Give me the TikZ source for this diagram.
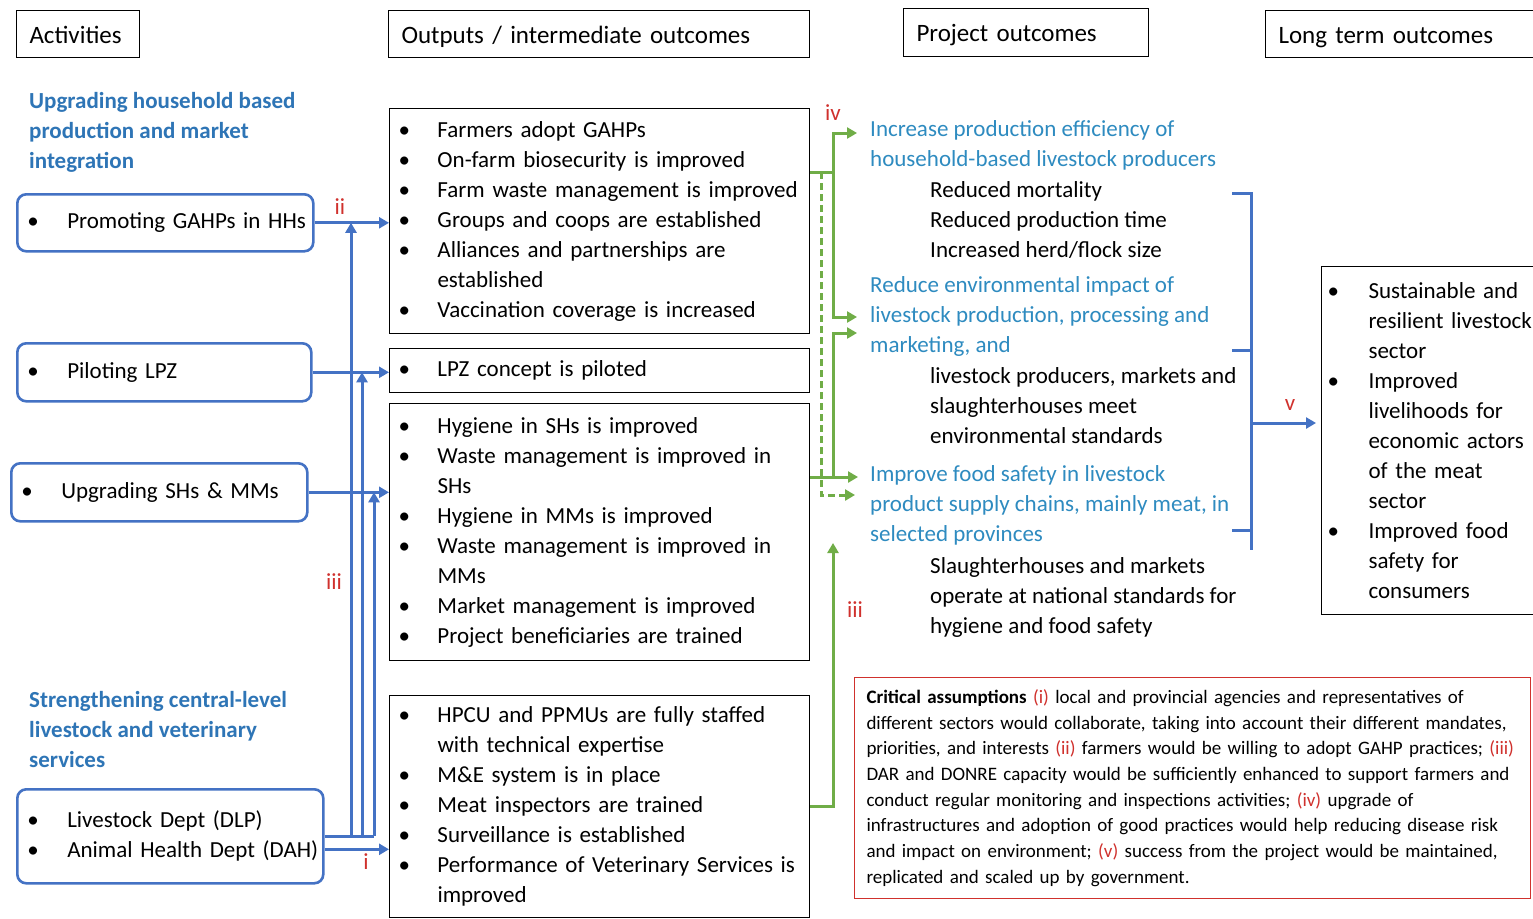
\documentclass[tikz,border=0pt]{standalone}
\usepackage{fontspec}
\setmainfont{Carlito}
\usetikzlibrary{arrows.meta}
\definecolor{cblue}{HTML}{4472C4}
\definecolor{hblue}{HTML}{2E75B6}
\definecolor{oblue}{HTML}{2E8BC0}
\definecolor{cgreen}{HTML}{70AD47}
\definecolor{cred}{HTML}{D0312D}
\newcommand\fs[2]{\fontsize{#1}{#2}\selectfont}
\newcommand\bl[1]{\mbox{\makebox[39pt][l]{\textbullet}#1}}
\newcommand\cl[1]{\mbox{\hspace*{39pt}#1}}
\newcommand\ba[1]{\mbox{\makebox[40pt][l]{\textbullet}#1}}
\newcommand\bt[1]{\mbox{\makebox[41pt][l]{\textbullet}#1}}
\newcommand\ct[1]{\mbox{\hspace*{41pt}#1}}
\newcommand\ml[1]{\mbox{#1}}
\newcommand\rl[1]{\textcolor{cred}{#1}}
\tikzset{
  hdr/.style={draw, line width=1pt, anchor=north west, inner xsep=13pt, minimum height=47pt, align=left, text height=18pt, text depth=0pt, font=\fs{25}{30}},
  head/.style={anchor=north west, inner sep=0pt, align=left, text=hblue, font=\bfseries\fs{23}{30}},
  act/.style={draw=cblue, line width=2.6pt, rounded corners=9pt, fill=white, anchor=north west, inner xsep=10pt, align=left, font=\fs{23}{30}},
  obox/.style={draw, line width=1pt, anchor=north west, inner xsep=9pt, align=left, font=\fs{23}{30}, minimum width=420pt, text width=402pt},
  pout/.style={anchor=north west, inner sep=0pt, align=left, font=\fs{23}{30}},
  lab/.style={text=cred, font=\fs{23}{30}, inner sep=0pt},
  bar/.style={cblue, line width=3pt},
  barr/.style={bar, -{Triangle[length=10pt,width=11pt]}},
  gl/.style={cgreen, line width=3pt},
  garr/.style={gl, -{Triangle[length=10pt,width=11pt]}}
}
\begin{document}
\begin{tikzpicture}[x=1pt,y=-1pt]
\path[use as bounding box] (0,0) rectangle (1533,918);
\clip (0,0) rectangle (1533,918);
\fill[white] (0,0) rectangle (1533,918);

% headers
\node[hdr, text width=97pt] (hA) at (16,10) {Activities};
\node[hdr, text width=395pt] (hO) at (388,10) {Outputs / intermediate outcomes};
\node[hdr, text width=219pt, minimum height=48pt] (hP) at (903,8) {Project outcomes};
\node[hdr, text width=250pt] (hL) at (1265,10) {Long term outcomes};

% activity headings
\node[head] (H1) at (29,87) {\strut Upgrading household based\\production and market\\integration};
\node[head] (H2) at (29,686) {\strut Strengthening central-level\\livestock and veterinary\\services};

% activity boxes
\node[act, minimum width=296pt, minimum height=57pt, text width=276pt] (A1) at (16,193) {\ba{Promoting GAHPs in HHs}};
\node[act, minimum width=294pt, minimum height=58pt, text width=274pt] (A2) at (16,342) {\ba{Piloting LPZ}};
\node[act, minimum width=296pt, minimum height=58pt, text width=276pt] (A3) at (10,462) {\ba{Upgrading SHs \& MMs}};
\node[act, minimum width=306pt, minimum height=94pt, text width=286pt] (A4) at (16,788) {\ba{Livestock Dept (DLP)}\\\ba{Animal Health Dept (DAH)}};

% output boxes
\node[obox, minimum height=225pt] (O1) at (389,108) {\bl{Farmers adopt GAHPs}\\
\bl{On-farm biosecurity is improved}\\
\bl{Farm waste management is improved}\\
\bl{Groups and coops are established}\\
\bl{Alliances and partnerships are}\\
\cl{established}\\
\bl{Vaccination coverage is increased}};
\node[obox, minimum height=44pt] (O2) at (389,348) {\bl{LPZ concept is piloted}};
\node[obox, minimum height=257pt] (O3) at (389,403) {\bl{Hygiene in SHs is improved}\\
\bl{Waste management is improved in}\\
\cl{SHs}\\
\bl{Hygiene in MMs is improved}\\
\bl{Waste management is improved in}\\
\cl{MMs}\\
\bl{Market management is improved}\\
\bl{Project beneficiaries are trained}};
\node[obox, minimum height=222pt] (O4) at (389,695) {\bl{HPCU and PPMUs are fully staffed}\\
\cl{with technical expertise}\\
\bl{M\&E system is in place}\\
\bl{Meat inspectors are trained}\\
\bl{Surveillance is established}\\
\bl{Performance of Veterinary Services is}\\
\cl{improved}};

% project outcomes
\node[pout, text=oblue] (P1) at (870,115.5) {\strut Increase production efficiency of\\household-based livestock producers};
\node[pout] (P1b) at (930,176.5) {\strut Reduced mortality\\Reduced production time\\Increased herd/flock size};
\node[pout, text=oblue] (P2) at (870,271.5) {\strut Reduce environmental impact of\\livestock production, processing and\\marketing, and};
\node[pout] (P2b) at (930,362.5) {\strut livestock producers, markets and\\slaughterhouses meet\\environmental standards};
\node[pout, text=oblue] (P3) at (870,460.5) {\strut Improve food safety in livestock\\product supply chains, mainly meat, in\\selected provinces};
\node[pout] (P3b) at (930,552.5) {\strut Slaughterhouses and markets\\operate at national standards for\\hygiene and food safety};

% long term box
\node[obox, minimum width=230pt, text width=218pt, inner xsep=6pt, minimum height=348pt] (LT) at (1321,266) {\bt{Sustainable and}\\
\ct{resilient livestock}\\
\ct{sector}\\
\bt{Improved}\\
\ct{livelihoods for}\\
\ct{economic actors}\\
\ct{of the meat}\\
\ct{sector}\\
\bt{Improved food}\\
\ct{safety for}\\
\ct{consumers}};

% critical assumptions
\node[draw=cred, line width=1pt, anchor=north west, minimum width=676pt, minimum height=221pt, inner xsep=12pt, text width=652pt, align=left, font=\fs{19}{25.7}] (C) at (854,677) {\ml{\textbf{Critical assumptions} \rl{(i)} local and provincial agencies and representatives of}\\
\ml{different sectors would collaborate, taking into account their different mandates,}\\
\ml{priorities, and interests \rl{(ii)} farmers would be willing to adopt GAHP practices; \rl{(iii)}}\\
\ml{DAR and DONRE capacity would be sufficiently enhanced to support farmers and}\\
\ml{conduct regular monitoring and inspections activities; \rl{(iv)} upgrade of}\\
\ml{infrastructures and adoption of good practices would help reducing disease risk}\\
\ml{and impact on environment; \rl{(v)} success from the project would be maintained,}\\
\ml{replicated and scaled up by government.}};

% blue connectors
\coordinate (b1) at (351,0);
\coordinate (b2) at (362,0);
\coordinate (b3) at (374,0);
\draw[barr] (A1.east) -- (A1.east -| O1.west);
\draw[barr] (A2.east) -- (A2.east -| O2.west);
\draw[barr] (A3.east) -- (A3.east -| O3.west);
\draw[bar] (A4.east) -- (A4.east -| b3);
\draw[barr] (A4.east -| b1) -- (A1.east -| b1);
\draw[barr] (A4.east -| b2) -- (A2.east -| b2);
\draw[barr] (A4.east -| b3) -- (A3.east -| b3);
\draw[barr] ([yshift=-13pt]A4.east) -- ([yshift=-13pt]A4.east -| O4.west);
\node[lab] (lii) at (340,207) {ii};
\node[lab] (liii) at (334,582) {iii};
\node[lab] (li) at (366,862) {i};

% green connectors
\coordinate (j1) at (833,172);
\coordinate (d1) at (821,172);
\coordinate (j2) at (833,477);
\coordinate (t1) at (857,133);
\coordinate (t2) at (857,317);
\coordinate (t3) at (857,333);
\coordinate (t4) at (858,477);
\coordinate (t5) at (833,543);
\coordinate (t6) at (855,495);
\draw[gl] (O1.east |- j1) -- (j1);
\draw[garr] (j1) |- (t1);
\draw[garr] (j1) |- (t2);
\draw[garr, dash pattern=on 7pt off 4pt] (d1) |- (t6);
\draw[garr] (O3.east |- j2) -- (t4);
\draw[garr] (j2) |- (t3);
\draw[garr] (O4.east) -| (t5);
\node[lab] (liv) at (833,113) {iv};
\node[lab] (liii2) at (855,610) {iii};

% bracket to long term outcomes
\coordinate (k1) at (1232,193);
\coordinate (k2) at (1232,350);
\coordinate (k3) at (1232,530);
\coordinate (bb) at (1251,550);
\coordinate (bj) at (1251,423);
\draw[bar] (k1) -- (k1 -| bb) -- (bb);
\draw[bar] (k2) -- (k2 -| bb);
\draw[bar] (k3) -- (k3 -| bb);
\draw[barr, shorten >=5pt] (bj) -- (LT.west |- bj);
\node[lab] (lv) at (1290,405) {v};
\end{tikzpicture}
\end{document}
